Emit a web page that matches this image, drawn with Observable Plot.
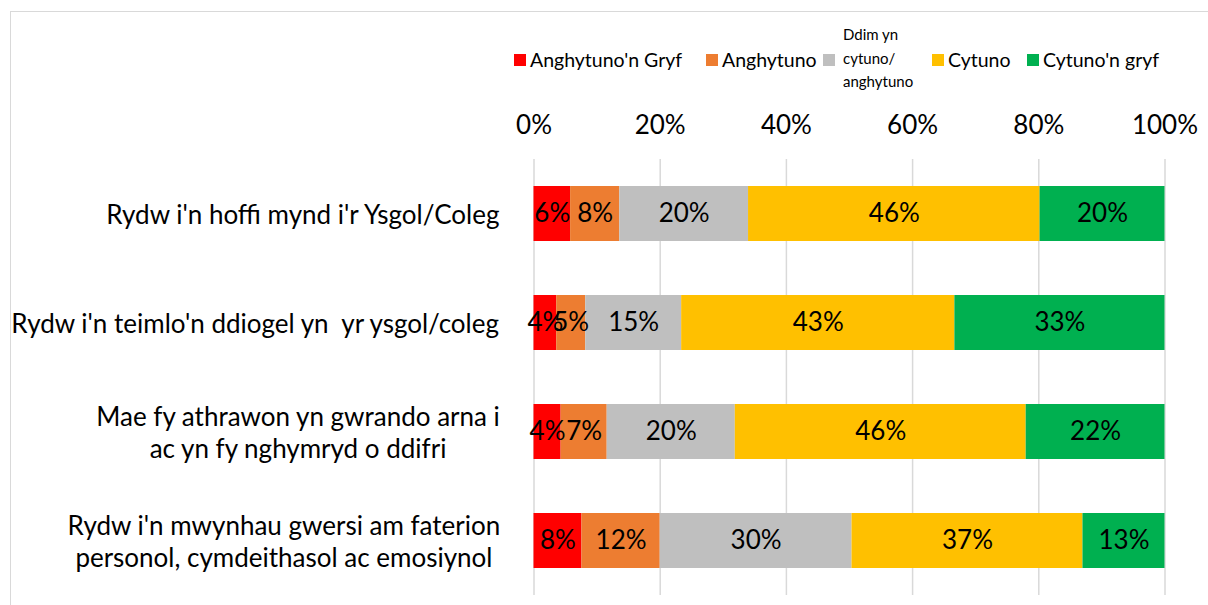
<!DOCTYPE html>
<html><head><meta charset="utf-8">
<script src="https://cdn.jsdelivr.net/npm/d3@7"></script>
<script src="https://cdn.jsdelivr.net/npm/@observablehq/plot@0.6"></script>
<style>
body{margin:0;background:#fff;font-family:Lato,sans-serif;color:#000}
#wrap{position:relative;width:1208px;height:605px;overflow:hidden}
#frame{position:absolute;left:10px;top:11px;width:1400px;height:900px;border:1px solid #d9d9d9;box-sizing:border-box;pointer-events:none}
#legend{position:relative;height:95px}
.item{position:absolute;top:12px;height:95px;display:flex;align-items:center}
.sw{width:12px;height:12px;flex:none}
.lt{font-size:19.5px;margin-left:4px;white-space:nowrap}
.lt.small{font-size:15px;line-height:23.5px;margin-left:8px;margin-top:-2px}
svg text{white-space:pre}
</style>
</head><body>
<div id="wrap">
<div id="frame"></div>
<div id="legend"></div>
<div id="chart"></div>
</div>
<script>
// ---- data ----
const questions = [
  "Rydw i'n hoffi mynd i'r Ysgol/Coleg",
  "Rydw i'n teimlo'n ddiogel yn  yr ysgol/coleg",
  "Mae fy athrawon yn gwrando arna i\nac yn fy nghymryd o ddifri",
  "Rydw i'n mwynhau gwersi am faterion\npersonol, cymdeithasol ac emosiynol"
];
const categories = ["Anghytuno'n Gryf", "Anghytuno", "Ddim yn\ncytuno/\nanghytuno", "Cytuno", "Cytuno'n gryf"];
const anghytunoGryf = [5.8, 3.6, 4.3, 7.6];
const anghytuno     = [7.8, 4.6, 7.3, 12.4];
const ddimYnCytuno  = [20.4, 15.2, 20.3, 30.4];
const cytuno        = [46.2, 43.3, 46.1, 36.6];
const cytunoGryf    = [19.8, 33.3, 22.0, 13.0];
const xTicks = [0, 20, 40, 60, 80, 100];

// ---- styles / layout ----
const colors = ["#FF0000", "#ED7D31", "#BFBFBF", "#FFC000", "#00B050"];
const FONT = "Lato";
const W = 1208, H = 510, ML = 533.5, MR = 43.5, MT = 64, MB = 10;
const catFont = 26, barFont = 26, tickFont = 26;
const labelRight = 500; // right edge of category label block (px)
const legendLeft = [514, 706, 823, 932, 1027];

const series = [anghytunoGryf, anghytuno, ddimYnCytuno, cytuno, cytunoGryf];
const rows = [];
questions.forEach((q, i) => categories.forEach((c, j) => rows.push({question: q, category: c, value: series[j][i]})));

// legend
const leg = document.getElementById("legend");
categories.forEach((c, j) => {
  const it = document.createElement("div");
  it.className = "item";
  it.style.left = legendLeft[j] + "px";
  const sw = document.createElement("div");
  sw.className = "sw"; sw.style.background = colors[j];
  const t = document.createElement("div");
  t.className = "lt" + (c.includes("\n") ? " small" : "");
  t.innerHTML = c.split("\n").join("<br>");
  it.append(sw, t);
  leg.append(it);
});

// category label centres: block right-aligned, lines centred
const ctx = document.createElement("canvas").getContext("2d");
ctx.font = `${catFont}px ${FONT}`;
const pxPerUnit = (W - ML - MR) / 100;
const labelRows = questions.map(q => {
  const w = Math.max(...q.split("\n").map(s => ctx.measureText(s).width));
  return {question: q, lx: (labelRight - w / 2 - ML) / pxPerUnit};
});

const plot = Plot.plot({
  width: W, height: H,
  marginTop: MT, marginBottom: MB, marginLeft: ML, marginRight: MR,
  style: {fontFamily: FONT, background: "transparent", color: "#000", overflow: "visible"},
  x: {domain: [0, 100], axis: null},
  y: {domain: questions, paddingInner: 0.5, paddingOuter: 0.25, axis: null},
  color: {domain: categories, range: colors},
  marks: [
    Plot.gridX(xTicks, {stroke: "#d9d9d9", strokeOpacity: 1, strokeWidth: 1.5}),
    Plot.axisX(xTicks, {anchor: "top", tickSize: 0, tickPadding: 26, fontSize: tickFont, tickFormat: d => d + "%", label: null}),
    Plot.barX(rows, Plot.stackX({x: "value", y: "question", z: "category", fill: "category"})),
    Plot.text(rows, Plot.stackX({x: "value", y: "question", z: "category", text: d => Math.round(d.value) + "%", fontSize: barFont, fill: "#000"})),
    Plot.text(labelRows, {x: "lx", y: "question", text: "question", textAnchor: "middle", fontSize: catFont, lineHeight: 1.2, fill: "#000"})
  ]
});
document.getElementById("chart").append(plot);
</script>
</body></html>
